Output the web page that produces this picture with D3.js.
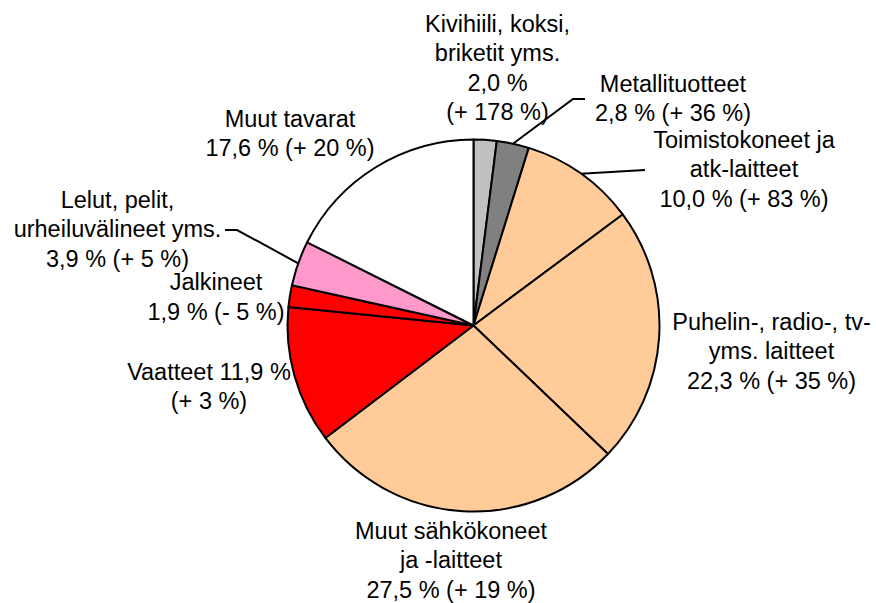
<!DOCTYPE html>
<html>
<head>
<meta charset="utf-8">
<script src="https://cdn.jsdelivr.net/npm/d3@7"></script>
<style>
  html, body { margin: 0; padding: 0; background: #fff; }
  svg { display: block; }
  text { font-family: "Liberation Sans", Arial, sans-serif; font-size: 23.5px; fill: #000; }
</style>
</head>
<body>
<svg id="chart" width="876" height="603"></svg>
<script>
// ---- data ----
const categories = [
  "Kivihiili, koksi, briketit yms.",
  "Metallituotteet",
  "Toimistokoneet ja atk-laitteet",
  "Puhelin-, radio-, tv- yms. laitteet",
  "Muut sähkökoneet ja -laitteet",
  "Vaatteet",
  "Jalkineet",
  "Lelut, pelit, urheiluvälineet yms.",
  "Muut tavarat"
];
const shares = [2.0, 2.8, 10.0, 22.3, 27.5, 11.9, 1.9, 3.9, 17.6];
const changes = ["+ 178", "+ 36", "+ 83", "+ 35", "+ 19", "+ 3", "- 5", "+ 5", "+ 20"];
// label lines: {v} = share, {c} = change
const labelLines = [
  ["Kivihiili, koksi,", "briketit yms.", "{v} %", "({c} %)"],
  ["Metallituotteet", "{v} % ({c} %)"],
  ["Toimistokoneet ja", "atk-laitteet", "{v} % ({c} %)"],
  ["Puhelin-, radio-, tv-", "yms. laitteet", "{v} % ({c} %)"],
  ["Muut sähkökoneet", "ja -laitteet", "{v} % ({c} %)"],
  ["Vaatteet {v} %", "({c} %)"],
  ["Jalkineet", "{v} % ({c} %)"],
  ["Lelut, pelit,", "urheiluvälineet yms.", "{v} % ({c} %)"],
  ["Muut tavarat", "{v} % ({c} %)"]
];

// ---- styles / layout ----
const colors = ["#C0C0C0", "#808080", "#FFCC99", "#FFCC99", "#FFCC99", "#FF0000", "#FF0000", "#FF99CC", "#FFFFFF"];
const cx = 473.5, cy = 325.5, R = 186;
const lineH = 29.6;
// label anchor: center x and first baseline y
const labelPos = [
  [497.5, 31.5], [673, 91.5], [744, 147.5], [771.5, 329.5], [451, 538.5],
  [209, 379.5], [216, 290], [117.5, 207.5], [290, 126.5]
];
// leader lines: elbow points (null = no leader)
const leaders = [
  null,
  [[573, 99], [585, 99]],
  [[645, 170]],
  null, null, null, null,
  [[237, 230], [225, 230]],
  null
];

const fmt = v => v.toFixed(1).replace(".", ",");

const svg = d3.select("#chart");
const g = svg.append("g").attr("transform", `translate(${cx},${cy})`);

const pie = d3.pie().sort(null).value(d => d)(shares);
const arc = d3.arc().innerRadius(0).outerRadius(R);

g.selectAll("path.slice")
  .data(pie)
  .join("path")
  .attr("class", "slice")
  .attr("d", arc)
  .attr("fill", (d, i) => colors[i])
  .attr("stroke", "#000")
  .attr("stroke-width", 2)
  .attr("stroke-linejoin", "round");

// leader lines
const edgeArc = d3.arc().innerRadius(R).outerRadius(R);
pie.forEach((d, i) => {
  if (!leaders[i]) return;
  const [ex, ey] = edgeArc.centroid(d);
  const pts = [[cx + ex, cy + ey], ...leaders[i]];
  svg.append("path")
    .attr("d", d3.line()(pts))
    .attr("fill", "none")
    .attr("stroke", "#000")
    .attr("stroke-width", 2);
});

// labels
labelLines.forEach((lines, i) => {
  const t = svg.append("text")
    .attr("text-anchor", "middle")
    .attr("x", labelPos[i][0])
    .attr("y", labelPos[i][1]);
  lines.forEach((ln, j) => {
    t.append("tspan")
      .attr("x", labelPos[i][0])
      .attr("y", labelPos[i][1] + j * lineH)
      .text(ln.replace("{v}", fmt(shares[i])).replace("{c}", changes[i]));
  });
});
</script>
</body>
</html>
